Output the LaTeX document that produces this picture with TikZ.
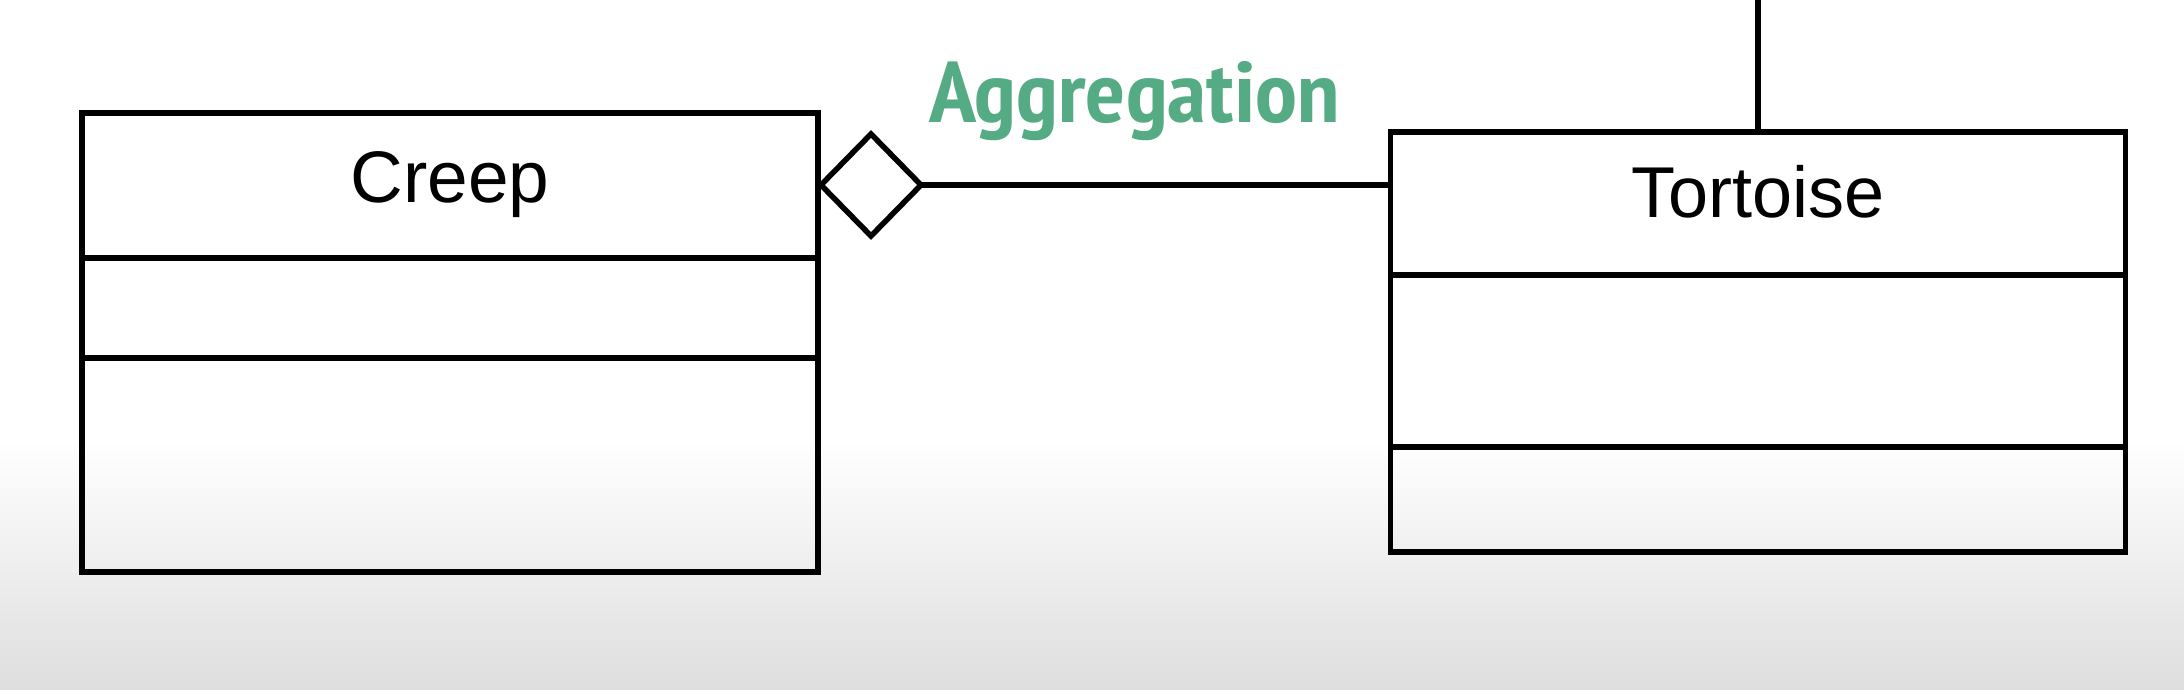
\documentclass[tikz,border=0pt]{standalone}
\usepackage{fontspec}
\setmainfont{Liberation Sans}
\newfontfamily\aggfont{PT Sans Narrow}
\usetikzlibrary{calc}
\definecolor{agggreen}{RGB}{84,171,132}
\definecolor{bggray}{RGB}{222,222,222}
\tikzset{
  classbox/.style={draw=black, line width=5.5pt, inner sep=0pt, outer sep=0pt, rectangle},
  conn/.style={draw=black, line width=5.5pt},
  classname/.style={anchor=base, inner sep=0pt, font=\fontsize{73}{80}\selectfont},
}
\begin{document}
\begin{tikzpicture}[x=1pt,y=-1pt]
\useasboundingbox (0,0) rectangle (2184,690);
\fill[white] (0,0) rectangle (2184,440);
\shade[top color=white, bottom color=bggray] (0,440) rectangle (2184,690);

% Creep class
\node[classbox, minimum width=736pt, minimum height=459pt] (creep) at (450,342.5) {};
\node[classname] (creepname) at (450,202) {Creep};
\draw[conn] (82,258) coordinate (c1l) -- (c1l -| creep.east);
\draw[conn] (82,358) coordinate (c2l) -- (c2l -| creep.east);

% Tortoise class
\node[classbox, minimum width=735pt, minimum height=420pt] (tortoise) at (1758,342) {};
\node[classname, font=\fontsize{72}{80}\selectfont] (tortname) at (1758,217) {Tortoise};
\draw[conn] (1391,275) coordinate (t1l) -- (t1l -| tortoise.east);
\draw[conn] (1391,447) coordinate (t2l) -- (t2l -| tortoise.east);

% line from top
\coordinate (topend) at (1758,0);
\draw[conn] (topend) -- (tortoise.north);

% aggregation diamond
\coordinate (dl) at (821,185);
\coordinate (dt) at (871,134);
\coordinate (dr) at (921,185);
\coordinate (db) at (871,236);
\draw[conn, line join=miter, fill=white] (dl) -- (dt) -- (dr) -- (db) -- cycle;
\draw[conn] (dr) -- (dr -| tortoise.west);

% label
\node[anchor=base west, inner sep=0pt, text=agggreen] (agg) at (929,123)
  {\resizebox{410pt}{\height}{\aggfont\bfseries\fontsize{86}{96}\selectfont Aggregation}};
\end{tikzpicture}
\end{document}
